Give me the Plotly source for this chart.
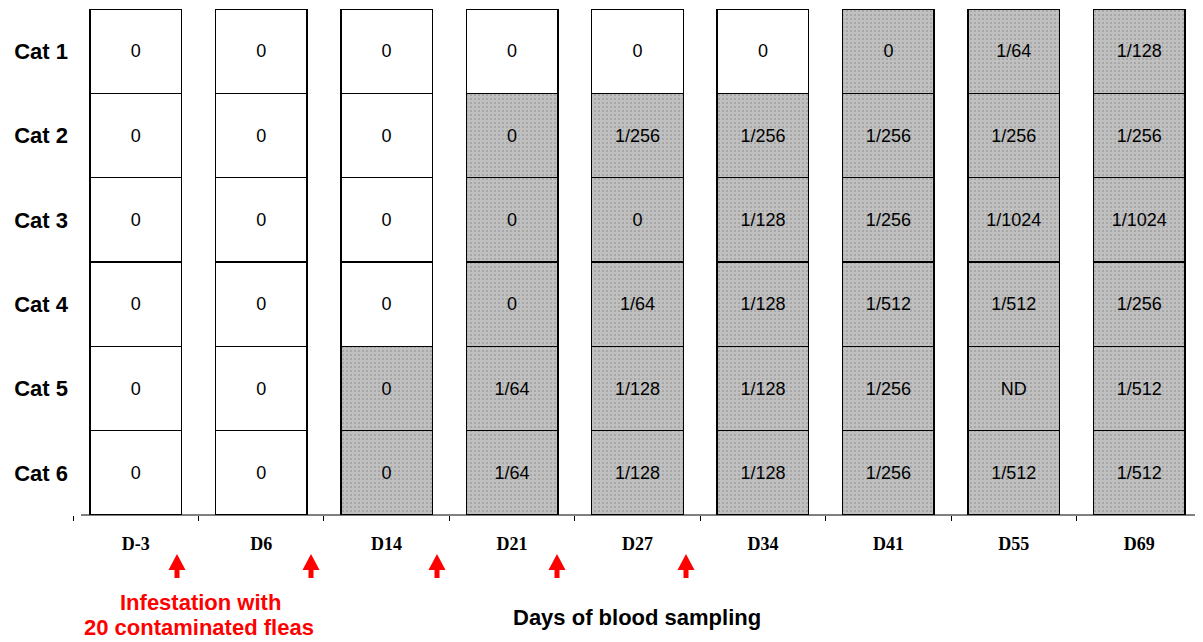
import plotly.graph_objects as go

days = ["D-3", "D6", "D14", "D21", "D27", "D34", "D41", "D55", "D69"]
cats = ["Cat 1", "Cat 2", "Cat 3", "Cat 4", "Cat 5", "Cat 6"]

titers = {
    "Cat 1": ["0", "0", "0", "0", "0", "0", "0", "1/64", "1/128"],
    "Cat 2": ["0", "0", "0", "0", "1/256", "1/256", "1/256", "1/256", "1/256"],
    "Cat 3": ["0", "0", "0", "0", "0", "1/128", "1/256", "1/1024", "1/1024"],
    "Cat 4": ["0", "0", "0", "0", "1/64", "1/128", "1/512", "1/512", "1/256"],
    "Cat 5": ["0", "0", "0", "1/64", "1/128", "1/128", "1/256", "ND", "1/512"],
    "Cat 6": ["0", "0", "0", "1/64", "1/128", "1/128", "1/256", "1/512", "1/512"],
}
# 1 = shaded (infected), 0 = white
shaded = {
    "Cat 1": [0, 0, 0, 0, 0, 0, 1, 1, 1],
    "Cat 2": [0, 0, 0, 1, 1, 1, 1, 1, 1],
    "Cat 3": [0, 0, 0, 1, 1, 1, 1, 1, 1],
    "Cat 4": [0, 0, 0, 1, 1, 1, 1, 1, 1],
    "Cat 5": [0, 0, 1, 1, 1, 1, 1, 1, 1],
    "Cat 6": [0, 0, 1, 1, 1, 1, 1, 1, 1],
}
infestation_lines = ["Infestation with", "20 contaminated fleas"]
x_title = "Days of blood sampling"

# page offset (browser body margin) and layout in page pixels
OFF = 8
W, H = 1203, 642
ml, mr, mt, mb = 73 - OFF, 9, 1, 642 - (515 - OFF)
pw, ph = W - ml - mr, H - mt - mb


def px_to_paper(x, y):
    return (x - OFF - ml) / pw, (H - mb - (y - OFF)) / ph


fig = go.Figure()
for cat in reversed(cats):
    s = shaded[cat]
    fig.add_trace(go.Bar(
        x=days,
        y=[1] * len(days),
        text=titers[cat],
        textposition="inside",
        insidetextanchor="middle",
        textangle=0,
        constraintext="none",
        textfont=dict(family="Arial, Liberation Sans", size=18, color="black"),
        marker=dict(
            color=["#c0c0c0" if v else "white" for v in s],
            line=dict(color="black", width=1.5),
            pattern=dict(
                shape=["." if v else "" for v in s],
                fgcolor="#555555",
                fillmode="overlay",
                size=4,
                solidity=0.12,
            ),
        ),
        showlegend=False,
        hoverinfo="skip",
        name=cat,
    ))

shapes = []
# x-axis baseline (starts slightly right of the plot edge, as in the original)
x0p, _ = px_to_paper(81, 515)
shapes.append(dict(
    type="line", xref="paper", yref="paper", x0=x0p, x1=1, y0=0, y1=0,
    line=dict(color="black", width=1),
))
# red up-arrows between sampling days (page-pixel x of each arrow tip)
arrow_path = "M 0 0 L 8.5 -16 L 2.5 -16 L 2.5 -24 L -2.5 -24 L -2.5 -16 L -8.5 -16 Z"
for arrow_px in [177, 311, 437, 557, 686]:
    xp, yp = px_to_paper(arrow_px, 554)
    shapes.append(dict(
        type="path", xref="paper", yref="paper",
        xsizemode="pixel", ysizemode="pixel", xanchor=xp, yanchor=yp,
        path=arrow_path, fillcolor="red", line=dict(width=0),
    ))

annotations = []
for line, (lx, ly) in zip(infestation_lines, [(200, 602), (199, 627)]):
    xp, yp = px_to_paper(lx, ly)
    annotations.append(dict(
        x=xp, y=yp, xref="paper", yref="paper", text=line,
        showarrow=False, xanchor="center", yanchor="middle",
        font=dict(family="Arial, Liberation Sans", size=22, color="red", weight="bold"),
    ))
xp, yp = px_to_paper(637, 617)
annotations.append(dict(
    x=xp, y=yp, xref="paper", yref="paper", text=x_title,
    showarrow=False, xanchor="center", yanchor="middle",
    font=dict(family="Arial, Liberation Sans", size=22, color="black", weight="bold"),
))

fig.update_layout(
    width=W, height=H,
    margin=dict(l=ml, r=mr, t=mt, b=mb, autoexpand=False),
    barmode="stack",
    bargap=0.27,
    plot_bgcolor="white",
    paper_bgcolor="white",
    annotations=annotations,
    shapes=shapes,
    hovermode=False,
    xaxis=dict(
        type="category",
        showline=False,
        ticks="outside", tickson="boundaries", ticklen=5, tickcolor="black",
        tickfont=dict(family="Times New Roman, Liberation Serif", size=18, color="black", weight="bold"),
        ticklabelstandoff=16,
        showgrid=False, zeroline=False,
        automargin=False,
    ),
    yaxis=dict(
        range=[0, 6],
        tickvals=[5.5, 4.5, 3.5, 2.5, 1.5, 0.5],
        ticktext=cats,
        tickfont=dict(family="Arial, Liberation Sans", size=22, color="black", weight="bold"),
        showgrid=False, zeroline=False, showline=False, ticks="",
        ticklabelstandoff=4,
        automargin=False,
    ),
)

fig.write_html("out.html")
